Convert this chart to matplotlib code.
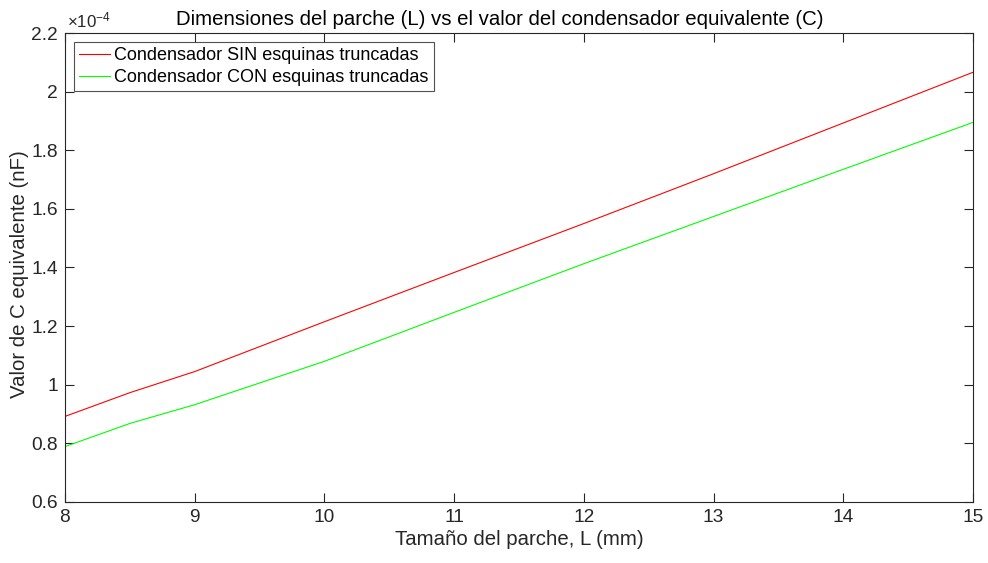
import numpy as np
import matplotlib
matplotlib.use('Agg')
import matplotlib.pyplot as plt
from matplotlib.ticker import FuncFormatter

plt.rcParams['font.family'] = ['Liberation Sans', 'DejaVu Sans']
plt.rcParams['mathtext.fontset'] = 'custom'
plt.rcParams['mathtext.rm'] = 'Liberation Sans'
plt.rcParams['mathtext.it'] = 'Liberation Sans:italic'

# patch size (mm) and equivalent capacitance (nF)
L = [8, 8.5, 9, 10, 11, 12, 13, 14, 15]
c_sin = np.array([0.892, 0.973, 1.045, 1.215, 1.383, 1.550, 1.720, 1.893, 2.066]) * 1e-4
c_con = np.array([0.789, 0.868, 0.932, 1.080, 1.247, 1.413, 1.574, 1.735, 1.895]) * 1e-4

axcol = '#262626'
fig = plt.figure(figsize=(9.88, 5.63), dpi=100)
ax = fig.add_axes([65/988, 61/563, 908/988, 469/563])

ax.plot(L, c_sin, color='#ff0000', lw=0.8, label='Condensador SIN esquinas truncadas')
ax.plot(L, c_con, color='#00ff00', lw=0.8, label='Condensador CON esquinas truncadas')

ax.set_xlim(8, 15)
ax.set_ylim(0.6e-4, 2.2e-4)
ax.set_xticks(np.arange(8, 16, 1))
ax.set_yticks(np.arange(0.6, 2.21, 0.2) * 1e-4)
ax.yaxis.set_major_formatter(FuncFormatter(lambda v, p: '%g' % round(v * 1e4, 3)))

for s in ax.spines.values():
    s.set_color(axcol)
    s.set_linewidth(0.8)
ax.tick_params(direction='in', length=6.5, width=0.8, color=axcol, labelcolor=axcol,
               labelsize=13.8, top=True, right=True, pad=5)

ax.text(0.002, 1.006, r'$\times10^{-4}$', transform=ax.transAxes, fontsize=12.2,
        color=axcol, ha='left', va='bottom')

ax.set_xlabel('Tamaño del parche, L (mm)', fontsize=14.7, color=axcol, labelpad=3)
ax.set_ylabel('Valor de C equivalente (nF)', fontsize=14.7, color=axcol, labelpad=1.5)
ax.yaxis.label.set_y(0.485)
ax.set_title('Dimensiones del parche (L) vs el valor del condensador equivalente (C)',
             fontsize=14.7, color='black', pad=6, x=0.479)

leg = ax.legend(loc='upper left', fontsize=13, frameon=True, fancybox=False,
                edgecolor=axcol, handlelength=1.7, handletextpad=0.2,
                borderpad=0.3, labelspacing=0.25, borderaxespad=0.5)
leg.get_frame().set_linewidth(0.8)
for t in leg.get_texts():
    t.set_color('black')

fig.savefig('out.png', dpi=100)
